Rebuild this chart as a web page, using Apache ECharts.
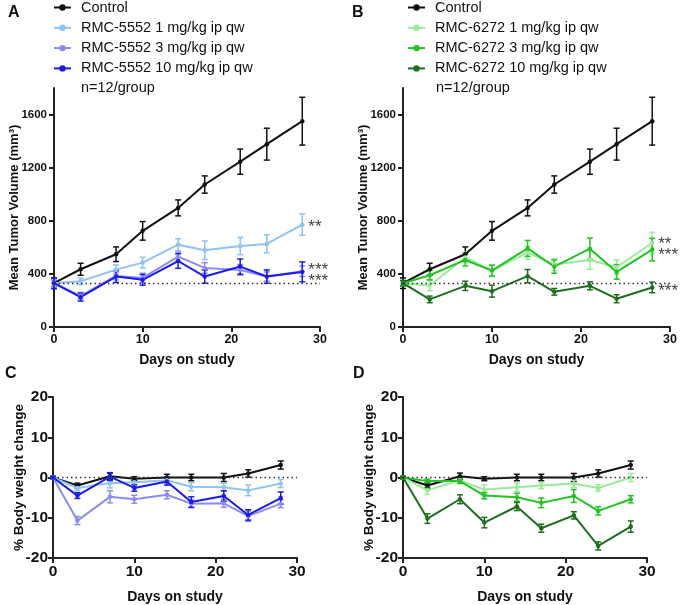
<!DOCTYPE html>
<html>
<head>
<meta charset="utf-8">
<script src="https://cdn.jsdelivr.net/npm/echarts@6/dist/echarts.min.js"></script>
<style>html,body{margin:0;padding:0;background:#fff}#c{width:681px;height:605px}</style>
</head>
<body>
<div id="c"></div>
<script>
// ---- data ----
const days = [0, 3, 7, 10, 14, 17, 21, 24, 28];

const tumorControl      = [330, 435, 548, 724, 897, 1073, 1245, 1377, 1550];
const tumorControlErr   = [40, 45, 55, 70, 60, 65, 95, 120, 180];
const tumor5552_1       = [330, 344, 432, 485, 620, 578, 610, 626, 771];
const tumor5552_1Err    = [20, 25, 35, 40, 45, 70, 65, 68, 80];
const tumor5552_3       = [330, 235, 385, 370, 530, 445, 430, 380, 420];
const tumor5552_3Err    = [25, 25, 30, 35, 35, 40, 40, 35, 40];
const tumor5552_10      = [330, 225, 380, 355, 497, 380, 455, 380, 415];
const tumor5552_10Err   = [40, 30, 45, 40, 55, 50, 57, 50, 75];
const tumor6272_1       = [330, 313, 524, 424, 560, 470, 505, 450, 633];
const tumor6272_1Err    = [20, 40, 40, 45, 50, 45, 70, 55, 80];
const tumor6272_3       = [330, 390, 505, 425, 592, 455, 590, 415, 583];
const tumor6272_3Err    = [20, 35, 45, 40, 60, 50, 80, 55, 85];
const tumor6272_10      = [330, 208, 310, 270, 383, 265, 310, 213, 298];
const tumor6272_10Err   = [20, 25, 35, 45, 50, 25, 30, 30, 40];

const bwControl     = [0, -2.0, 0.3, -0.3, 0, 0, 0, 1.0, 3.1];
const bwControlErr  = [0.3, 0.6, 0.8, 0.5, 0.8, 0.8, 1.0, 0.9, 1.0];
const bw5552_1      = [0, -2.6, -1.4, -1.2, -0.7, -2.3, -2.4, -3.2, -1.5];
const bw5552_1Err   = [0.3, 0.7, 1.2, 1.0, 0.8, 1.0, 1.0, 1.3, 1.0];
const bw5552_3      = [0, -10.7, -4.8, -5.4, -4.3, -6.5, -6.4, -9.6, -6.5];
const bw5552_3Err   = [0.3, 1.0, 1.5, 1.0, 1.0, 1.0, 1.0, 1.3, 1.0];
const bw5552_10     = [0, -4.5, 0.2, -2.6, -1.0, -6.1, -4.6, -9.3, -5.1];
const bw5552_10Err  = [0.3, 0.7, 1.0, 0.8, 0.9, 1.3, 1.3, 1.3, 1.5];
const bw6272_1      = [0, -3.2, -0.7, -3.0, -2.4, -2.0, -1.5, -2.6, 0];
const bw6272_1Err   = [0.3, 1.0, 0.6, 1.2, 1.0, 0.8, 1.0, 0.8, 1.0];
const bw6272_3      = [0, -0.9, -0.9, -4.5, -4.9, -6.3, -4.6, -8.3, -5.4];
const bw6272_3Err   = [0.3, 0.5, 0.6, 0.8, 1.0, 1.2, 1.6, 1.0, 0.9];
const bw6272_10     = [0, -10.2, -5.4, -11.2, -7.2, -12.6, -9.4, -17.0, -12.2];
const bw6272_10Err  = [0.3, 1.2, 1.1, 1.3, 1.0, 1.0, 0.9, 1.0, 1.4];

const tumorTicks = [0, 400, 800, 1200, 1600];
const baselineVolume = 333;

const names = {
  ctl: 'Control',
  b1: 'RMC-5552 1 mg/kg ip qw', b3: 'RMC-5552 3 mg/kg ip qw', b10: 'RMC-5552 10 mg/kg ip qw',
  g1: 'RMC-6272 1 mg/kg ip qw', g3: 'RMC-6272 3 mg/kg ip qw', g10: 'RMC-6272 10 mg/kg ip qw'
};
const colors = {
  ctl: '#111111', b1: '#8ec3f2', b3: '#8c8cf2', b10: '#1a1af0',
  g1: '#9beb9b', g3: '#22c322', g10: '#1d6f1d'
};

// ---- build ----
const FONT = 'Liberation Sans, Arial, sans-serif';
const chart = echarts.init(document.getElementById('c'));

function lineSeries(key, idx, vals, star, starOffset) {
  const s = {
    type: 'line', name: names[key], xAxisIndex: idx, yAxisIndex: idx,
    data: days.map((d, i) => [d, vals[i]]),
    symbol: 'circle', symbolSize: 4.5, showSymbol: true,
    lineStyle: { width: 2, color: colors[key] },
    itemStyle: { color: colors[key] },
    color: colors[key], z: 3, animation: false
  };
  if (star) {
    s.endLabel = {
      show: true, formatter: star, color: '#444', fontSize: 17, fontFamily: FONT,
      distance: 6, offset: starOffset || [0, 0]
    };
  }
  return s;
}
function errSeries(key, idx, vals, errs) {
  const color = colors[key];
  return {
    type: 'custom', name: 'err-' + key + idx, xAxisIndex: idx, yAxisIndex: idx,
    data: days.map((d, i) => [d, vals[i], errs[i]]),
    encode: { x: 0, y: 1 }, silent: true, z: 2, animation: false,
    renderItem: function (params, api) {
      const x = api.value(0), m = api.value(1), e = api.value(2);
      const t = api.coord([x, m + e]), b = api.coord([x, m - e]);
      const cw = 3, st = { stroke: color, lineWidth: 1.5 };
      return { type: 'group', children: [
        { type: 'line', shape: { x1: t[0], y1: t[1], x2: b[0], y2: b[1] }, style: st },
        { type: 'line', shape: { x1: t[0] - cw, y1: t[1], x2: t[0] + cw, y2: t[1] }, style: st },
        { type: 'line', shape: { x1: b[0] - cw, y1: b[1], x2: b[0] + cw, y2: b[1] }, style: st }
      ] };
    }
  };
}
function refLine(idx, val) {
  return {
    type: 'line', name: 'ref' + idx, xAxisIndex: idx, yAxisIndex: idx, data: [], silent: true,
    markLine: { silent: true, symbol: 'none', label: { show: false },
      lineStyle: { type: [1.5, 3], color: '#333', width: 1.3 }, data: [{ yAxis: val }], animation: false }
  };
}

const axisLine = { show: true, onZero: false, lineStyle: { color: '#222', width: 2 } };
const axisTick = { show: true, length: 5, lineStyle: { color: '#222', width: 2 } };
const plain = v => String(v);
function xAxis(idx, fs, gap) {
  return {
    type: 'value', gridIndex: idx, min: 0, max: 30, interval: 10,
    axisLine: axisLine, axisTick: axisTick, splitLine: { show: false },
    axisLabel: { color: '#111', fontWeight: 'bold', fontSize: fs, fontFamily: FONT, margin: 6, formatter: plain },
    name: 'Days on study', nameLocation: 'middle', nameGap: gap, nameMoveOverlap: false,
    nameTextStyle: { color: '#111', fontWeight: 'bold', fontSize: 14, fontFamily: FONT }
  };
}
function yTumor(idx) {
  return {
    type: 'value', gridIndex: idx, min: 0, max: 1800,
    axisLine: axisLine, splitLine: { show: false },
    axisTick: Object.assign({ customValues: tumorTicks }, axisTick),
    axisLabel: { customValues: tumorTicks, color: '#111', fontWeight: 'bold', fontSize: 11.5, fontFamily: FONT, margin: 7, formatter: plain },
    name: 'Mean Tumor Volume (mm³)', nameLocation: 'middle', nameGap: 33, nameMoveOverlap: false,
    nameTextStyle: { color: '#111', fontWeight: 'bold', fontSize: 13, fontFamily: FONT }
  };
}
function yBw(idx) {
  return {
    type: 'value', gridIndex: idx, min: -20, max: 20, interval: 10,
    axisLine: axisLine, axisTick: axisTick, splitLine: { show: false },
    axisLabel: { color: '#111', fontWeight: 'bold', fontSize: 15.5, fontFamily: FONT, margin: 5, formatter: plain },
    name: '% Body weight change', nameLocation: 'middle', nameGap: 27, nameMoveOverlap: false,
    nameTextStyle: { color: '#111', fontWeight: 'bold', fontSize: 13.5, fontFamily: FONT }
  };
}
function legend(left, keys) {
  return {
    orient: 'vertical', left: left, top: -5, itemGap: 5.3, itemWidth: 17, itemHeight: 8,
    selectedMode: false, data: keys.map(k => names[k]),
    textStyle: { fontSize: 14.5, fontFamily: FONT, color: '#111', lineHeight: 14, padding: [0, 0, 0, 5] }
  };
}

const option = {
  animation: false,
  grid: [
    { left: 54, top: 88, width: 266, height: 239 },
    { left: 403, top: 88, width: 267, height: 239 },
    { left: 53, top: 397, width: 244, height: 162 },
    { left: 403, top: 397, width: 244, height: 162 }
  ],
  xAxis: [xAxis(0, 12.5, 26), xAxis(1, 12.5, 26), xAxis(2, 15.5, 32), xAxis(3, 15.5, 32)],
  yAxis: [yTumor(0), yTumor(1), yBw(2), yBw(3)],
  legend: [legend(48, ['ctl', 'b1', 'b3', 'b10']), legend(402, ['ctl', 'g1', 'g3', 'g10'])],
  graphic: [
    { type: 'text', left: 8, top: 5, style: { text: 'A', font: 'bold 16px ' + FONT, fill: '#111' } },
    { type: 'text', left: 352, top: 5, style: { text: 'B', font: 'bold 16px ' + FONT, fill: '#111' } },
    { type: 'text', left: 5, top: 366, style: { text: 'C', font: 'bold 16px ' + FONT, fill: '#111' } },
    { type: 'text', left: 353, top: 366, style: { text: 'D', font: 'bold 16px ' + FONT, fill: '#111' } },
    { type: 'text', left: 81, top: 80, style: { text: 'n=12/group', font: '14.5px ' + FONT, fill: '#111' } },
    { type: 'text', left: 436, top: 80, style: { text: 'n=12/group', font: '14.5px ' + FONT, fill: '#111' } }
  ],
  series: [
    refLine(0, baselineVolume), refLine(1, baselineVolume), refLine(2, 0), refLine(3, 0),
    // A
    errSeries('ctl', 0, tumorControl, tumorControlErr),
    errSeries('b1', 0, tumor5552_1, tumor5552_1Err),
    errSeries('b3', 0, tumor5552_3, tumor5552_3Err),
    errSeries('b10', 0, tumor5552_10, tumor5552_10Err),
    lineSeries('ctl', 0, tumorControl),
    lineSeries('b1', 0, tumor5552_1, '**', [0, 3]),
    lineSeries('b3', 0, tumor5552_3, '***', [0, -1]),
    lineSeries('b10', 0, tumor5552_10, '***', [0, 9]),
    // B
    errSeries('ctl', 1, tumorControl, tumorControlErr),
    errSeries('g1', 1, tumor6272_1, tumor6272_1Err),
    errSeries('g3', 1, tumor6272_3, tumor6272_3Err),
    errSeries('g10', 1, tumor6272_10, tumor6272_10Err),
    lineSeries('ctl', 1, tumorControl),
    lineSeries('g1', 1, tumor6272_1, '**', [0, 1]),
    lineSeries('g3', 1, tumor6272_3, '***', [0, 6]),
    lineSeries('g10', 1, tumor6272_10, '***', [0, 4]),
    // C
    errSeries('ctl', 2, bwControl, bwControlErr),
    errSeries('b1', 2, bw5552_1, bw5552_1Err),
    errSeries('b3', 2, bw5552_3, bw5552_3Err),
    errSeries('b10', 2, bw5552_10, bw5552_10Err),
    lineSeries('ctl', 2, bwControl),
    lineSeries('b1', 2, bw5552_1),
    lineSeries('b3', 2, bw5552_3),
    lineSeries('b10', 2, bw5552_10),
    // D
    errSeries('ctl', 3, bwControl, bwControlErr),
    errSeries('g1', 3, bw6272_1, bw6272_1Err),
    errSeries('g3', 3, bw6272_3, bw6272_3Err),
    errSeries('g10', 3, bw6272_10, bw6272_10Err),
    lineSeries('ctl', 3, bwControl),
    lineSeries('g1', 3, bw6272_1),
    lineSeries('g3', 3, bw6272_3),
    lineSeries('g10', 3, bw6272_10)
  ]
};
chart.setOption(option);
</script>
</body>
</html>
